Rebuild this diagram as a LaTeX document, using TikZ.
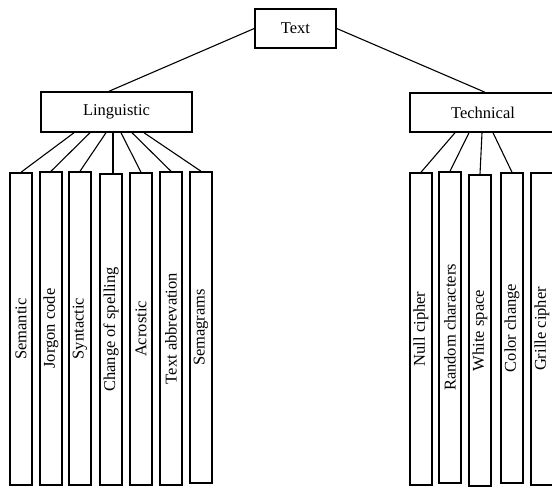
\documentclass[tikz,border=0pt]{standalone}
\usepackage{fontspec}
\setmainfont{Liberation Serif}
\usepackage{graphicx}
\begin{document}
\begin{tikzpicture}[x=1pt,y=-1pt,line width=1.1pt,
    box/.style={draw=black,line width=1.5pt,inner sep=0pt,font=\fontsize{16.5}{19}\selectfont},
    leaf/.style={box,minimum width=22pt}]
    \useasboundingbox (0,0) rectangle (552,487);
    \node [box,minimum width=81pt,minimum height=39pt] (text) at (295.5,28.5) {Text};
    \node [box,minimum width=151pt,minimum height=40pt] (ling) at (116.5,112) {Linguistic};
    \node [box,minimum width=146pt,minimum height=39pt] (tech) at (483,112.5) {Technical};
    \foreach \n/\x/\t/\b/\l in {sem/21/173/485/Semantic, jor/51/172/485/Jorgon code,
        syn/80/172/485/Syntactic, chg/111/174/485/Change of spelling,
        acr/141/173/485/Acrostic, abb/171/172/485/Text abbrevation,
        sgm/201/172/483/Semagrams, nul/421/173/485/Null cipher,
        rnd/450/172/483/Random characters, whs/480/175/486/White space,
        col/512/173/483/Color change, grl/542/173/485/Grille cipher}
      \node [leaf,minimum height={\b-\t}] (\n) at (\x,{(\t+\b)/2}) {\rotatebox{90}{\l}};
    \draw [black] (text.west) -- ([xshift=-7.5pt]ling.north);
    \draw [black] (text.east) -- ([xshift=2pt]tech.north);
    \foreach \d/\n in {-42.5/sem,-26.5/jor,-10.5/syn,4.5/acr,15.5/abb,27.5/sgm}
      \draw [black] ([xshift=\d pt]ling.south) -- (\n.north);
    \draw [black] ([xshift=-3.5pt]ling.south) -- ([xshift=2pt]chg.north);
    \foreach \d/\n in {-28/nul,-14/rnd,-1/whs,10/col}
      \draw [black] ([xshift=\d pt]tech.south) -- (\n.north);
\end{tikzpicture}
\end{document}
